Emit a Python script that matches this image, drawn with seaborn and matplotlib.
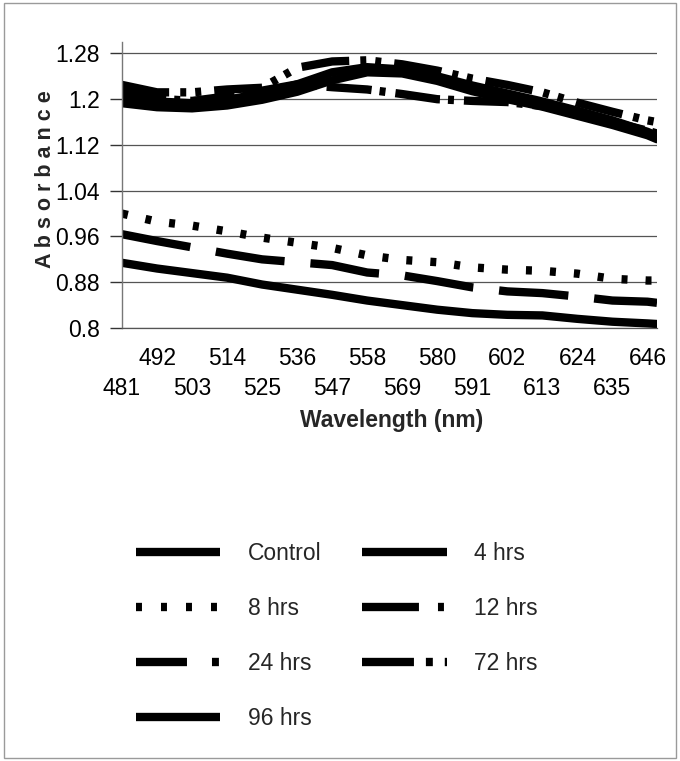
import matplotlib
matplotlib.use("Agg")
import matplotlib.pyplot as plt
from matplotlib.lines import Line2D
from matplotlib.patches import Rectangle
import pandas as pd
import seaborn as sns

# Wavelengths (nm) at which absorbance was sampled
wavelength = [481, 492, 503, 514, 525, 536, 547, 558, 569, 580, 591, 602, 613, 624, 635, 646, 649]

# Absorbance of each exposure series
control = [1.193, 1.186, 1.184, 1.189, 1.199, 1.213, 1.233, 1.247, 1.245, 1.232, 1.214, 1.200, 1.187, 1.171, 1.155, 1.137, 1.130]
hrs_4 = [1.205, 1.196, 1.193, 1.199, 1.210, 1.226, 1.247, 1.256, 1.252, 1.240, 1.224, 1.210, 1.196, 1.180, 1.163, 1.143, 1.136]
hrs_8 = [1.000, 0.986, 0.979, 0.969, 0.958, 0.949, 0.940, 0.927, 0.919, 0.915, 0.906, 0.902, 0.900, 0.895, 0.886, 0.883, 0.883]
hrs_12 = [1.215, 1.201, 1.197, 1.205, 1.215, 1.226, 1.221, 1.217, 1.209, 1.200, 1.197, 1.195, 1.188, 1.175, 1.160, 1.145, 1.140]
hrs_24 = [0.964, 0.952, 0.941, 0.930, 0.920, 0.915, 0.910, 0.897, 0.892, 0.882, 0.871, 0.864, 0.861, 0.855, 0.848, 0.846, 0.844]
hrs_72 = [1.225, 1.212, 1.212, 1.217, 1.220, 1.255, 1.266, 1.268, 1.261, 1.250, 1.236, 1.225, 1.212, 1.194, 1.178, 1.163, 1.160]
hrs_96 = [0.914, 0.904, 0.896, 0.888, 0.876, 0.867, 0.858, 0.848, 0.840, 0.832, 0.826, 0.823, 0.822, 0.816, 0.811, 0.808, 0.807]

series_names = ["Control", "4 hrs", "8 hrs", "12 hrs", "24 hrs", "72 hrs", "96 hrs"]
series_values = [control, hrs_4, hrs_8, hrs_12, hrs_24, hrs_72, hrs_96]

# Axis ticks: labels alternate between two rows
upper_row_ticks = [492, 514, 536, 558, 580, 602, 624, 646]
lower_row_ticks = [481, 503, 525, 547, 569, 591, 613, 635]
y_ticks = [0.8, 0.88, 0.96, 1.04, 1.12, 1.2, 1.28]
y_tick_labels = ["0.8", "0.88", "0.96", "1.04", "1.12", "1.2", "1.28"]

sns.set_theme(style="white")
plt.rcParams["font.family"] = ["Liberation Sans", "DejaVu Sans"]
plt.rcParams["lines.scale_dashes"] = False

df = pd.concat(
    [pd.DataFrame({"wavelength": wavelength, "absorbance": vals, "series": name})
     for name, vals in zip(series_names, series_values)],
    ignore_index=True,
)

# Dash patterns (points) used along the curves
line_dashes = {
    "Control": "",
    "4 hrs": "",
    "8 hrs": (4.3, 13.0),
    "12 hrs": (32.4, 5.8, 4.3, 7.2),
    "24 hrs": (50.0, 18.7),
    "72 hrs": (34.5, 8.0, 4.3, 6.5, 4.3, 9.4),
    "96 hrs": "",
}
# Dash patterns (points) used for the legend keys
legend_dashes = {
    "8 hrs": (4.3, 13.7),
    "12 hrs": (41.0, 13.7, 4.3, 20.0),
    "24 hrs": (36.7, 18.0, 5.0, 40.0),
    "72 hrs": (37.4, 8.6, 5.0, 8.6, 4.3, 20.0),
}

W, H = 680, 761
fig = plt.figure(figsize=(W / 100, H / 100), dpi=100)
ax = fig.add_axes([122 / W, 1 - 328 / H, 535 / W, 286 / H])

sns.lineplot(
    data=df, x="wavelength", y="absorbance", style="series",
    style_order=series_names, dashes=line_dashes, color="black",
    linewidth=6, estimator=None, sort=False, legend=False, ax=ax,
)

ax.set_xlim(481, 649)
ax.set_ylim(0.8, 1.3)

tick_font = 16.5
ax.set_yticks(y_ticks, labels=y_tick_labels)
ax.set_xticks(upper_row_ticks, labels=[str(t) for t in upper_row_ticks])
ax.set_xticks(lower_row_ticks, labels=[str(t) for t in lower_row_ticks], minor=True)
ax.tick_params(axis="x", which="major", length=0, pad=14, labelsize=tick_font, colors="black")
ax.tick_params(axis="x", which="minor", length=0, pad=35, labelsize=tick_font, colors="black")
ax.tick_params(axis="y", which="major", left=True, length=9, width=1,
               pad=7, labelsize=tick_font, labelcolor="black", color="#333333")

ax.yaxis.grid(True, color="#555555", linewidth=0.9)
ax.xaxis.grid(False)
ax.set_axisbelow(True)
for side in ("top", "right"):
    ax.spines[side].set_visible(False)
ax.spines["left"].set_color("#777777")
ax.spines["left"].set_linewidth(1.0)
ax.spines["bottom"].set_color("#555555")
ax.spines["bottom"].set_linewidth(0.9)

ax.set_ylabel("A b s o r b a n c e", fontweight="bold", fontsize=15.5, va="center")
ax.yaxis.set_label_coords((46 - 122) / 535, (328 - 179) / 286)
ax.set_xlabel("Wavelength (nm)", fontweight="bold", fontsize=16.5, va="center")
ax.xaxis.set_label_coords((392 - 122) / 535, (328 - 421) / 286)

# Legend: two columns, black keys
legend_order = ["Control", "8 hrs", "24 hrs", "96 hrs", "4 hrs", "12 hrs", "72 hrs"]
handles = []
for name in legend_order:
    if name in legend_dashes:
        h = Line2D([], [], color="black", linewidth=6, dashes=legend_dashes[name],
                   dash_capstyle="butt")
    else:
        h = Line2D([], [], color="black", linewidth=6, linestyle="-", solid_capstyle="butt")
    handles.append(h)

legend_font = 16.5
fig.legend(
    handles, legend_order, ncol=2, loc="upper left",
    bbox_to_anchor=(136 / W, 1 - 542 / H), bbox_transform=fig.transFigure,
    frameon=False, fontsize=legend_font, handlelength=3.67, handletextpad=1.21,
    columnspacing=1.79, labelspacing=1.40, borderpad=0, borderaxespad=0,
)

fig.patches.append(Rectangle((4 / W, 3 / H), 672 / W, 755 / H, transform=fig.transFigure,
                             fill=False, edgecolor="#9a9a9a", linewidth=1.0))

fig.savefig("out.png", dpi=100)
